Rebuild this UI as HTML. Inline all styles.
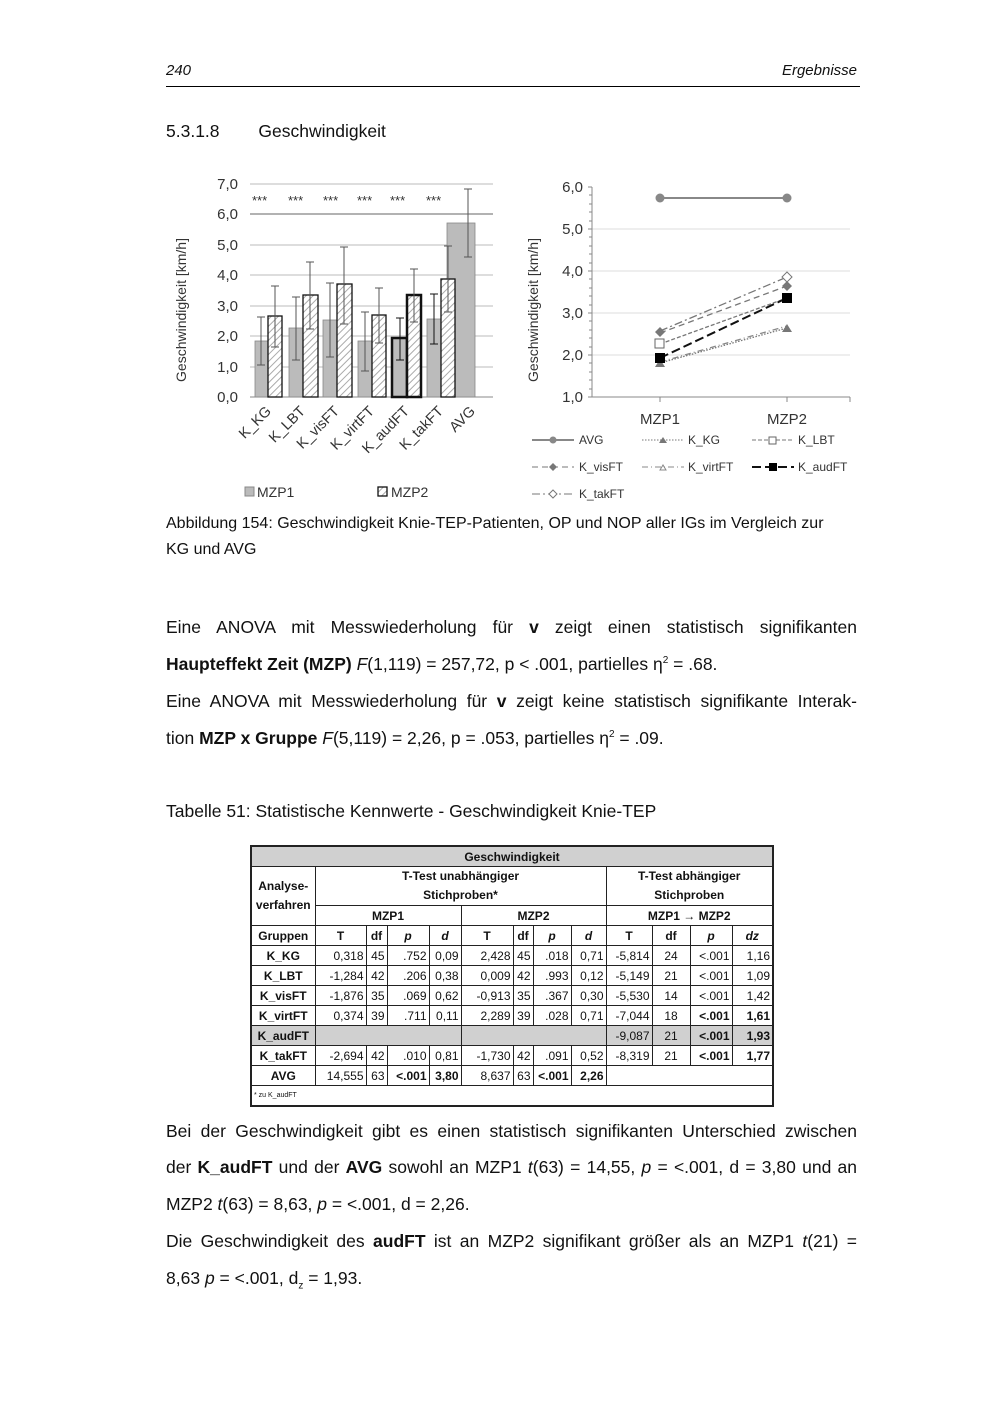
<!DOCTYPE html>
<html><head><meta charset="utf-8"><style>
body{margin:0;background:#fff;font-family:"Liberation Sans",sans-serif;color:#111}
.pg{position:relative;width:1000px;height:1414px;overflow:hidden}
.a{position:absolute;white-space:nowrap}
.t{font-size:17.5px;left:166px;width:691px}
table{position:absolute;left:250px;top:845px;border-collapse:collapse;font-size:12px;table-layout:fixed;border:2px solid #222}
td{border:1px solid #222;height:19px;padding:0 2px;text-align:center;font-weight:bold;line-height:1}
td.n{font-weight:normal;text-align:right}
.g{background:#d0d0d0}
</style></head><body><div class="pg">
<div class="a" style="left:166px;top:62px;font-size:15px;font-style:italic">240</div>
<div class="a" style="left:780px;top:62px;font-size:15px;font-style:italic;width:77px;text-align:right">Ergebnisse</div>
<div class="a" style="left:166px;top:86px;width:694px;height:1px;background:#000"></div>
<div class="a" style="left:166px;top:121px;font-size:17.5px">5.3.1.8&nbsp;&nbsp;&nbsp;&nbsp;&nbsp;&nbsp;&nbsp;&nbsp;Geschwindigkeit</div>

<svg class="a" style="left:0;top:0" width="1000" height="520" font-family="Liberation Sans,sans-serif">
<defs><pattern id="h" width="5" height="5" patternUnits="userSpaceOnUse" patternTransform="rotate(45)"><rect width="5" height="5" fill="#fff"/><line x1="0" y1="0" x2="0" y2="5" stroke="#aaa" stroke-width="2"/></pattern></defs>
<g stroke="#bbb" stroke-width="1">
<line x1="250" y1="184" x2="493" y2="184"/><line x1="250" y1="214" x2="493" y2="214" stroke="#666"/><line x1="250" y1="245" x2="493" y2="245"/><line x1="250" y1="275" x2="493" y2="275"/><line x1="250" y1="306" x2="493" y2="306"/><line x1="250" y1="336" x2="493" y2="336"/><line x1="250" y1="367" x2="493" y2="367"/><line x1="250" y1="397" x2="493" y2="397" stroke="#888"/>
</g>
<g font-size="15" fill="#333" text-anchor="end"><text x="238" y="189">7,0</text><text x="238" y="219">6,0</text><text x="238" y="250">5,0</text><text x="238" y="280">4,0</text><text x="238" y="311">3,0</text><text x="238" y="341">2,0</text><text x="238" y="372">1,0</text><text x="238" y="402">0,0</text></g>
<text transform="translate(186,310) rotate(-90)" font-size="14" text-anchor="middle" fill="#333">Geschwindigkeit [km/h]</text>
<g font-size="13" fill="#333"><text x="252" y="205">***</text><text x="288" y="205">***</text><text x="323" y="205">***</text><text x="357" y="205">***</text><text x="390" y="205">***</text><text x="426" y="205">***</text></g>
<g fill="#bbb" stroke="#888" stroke-width="0.8">
<rect x="255" y="341" width="13" height="56"/><rect x="289" y="328" width="14" height="69"/><rect x="323" y="320" width="14" height="77"/><rect x="358" y="341" width="14" height="56"/><rect x="427" y="319" width="14" height="78"/><rect x="447" y="223" width="28" height="174"/>
</g>
<rect x="392" y="338" width="15" height="59" fill="#bbb" stroke="#111" stroke-width="2.5"/>
<g fill="url(#h)" stroke="#111" stroke-width="1.3">
<rect x="268" y="316" width="14" height="81"/><rect x="303" y="295" width="15" height="102"/><rect x="337" y="284" width="15" height="113"/><rect x="372" y="315" width="14" height="82"/><rect x="441" y="279" width="14" height="118"/>
</g>
<rect x="407" y="295" width="14" height="102" fill="url(#h)" stroke="#111" stroke-width="2.5"/>
<g stroke="#555" stroke-width="1">
<path d="M261 365V317M257 365h8M257 317h8"/><path d="M275 347V286M271 347h8M271 286h8"/>
<path d="M296 360V297M292 360h8M292 297h8"/><path d="M310 329V262M306 329h8M306 262h8"/>
<path d="M330 357V283M326 357h8M326 283h8"/><path d="M344 324V247M340 324h8M340 247h8"/>
<path d="M365 371V312M361 371h8M361 312h8"/><path d="M379 343V288M375 343h8M375 288h8"/>
<path d="M400 360V318M396 360h8M396 318h8" stroke="#111"/><path d="M414 322V269M410 322h8M410 269h8"/>
<path d="M434 344V294M430 344h8M430 294h8" stroke="#111"/><path d="M448 312V246M444 312h8M444 246h8"/>
<path d="M468 257V189M464 257h8M464 189h8"/>
</g>
<g font-size="14.5" fill="#333" text-anchor="end">
<text transform="translate(272,412) rotate(-45)">K_KG</text><text transform="translate(306,412) rotate(-45)">K_LBT</text><text transform="translate(340,412) rotate(-45)">K_visFT</text><text transform="translate(375,412) rotate(-45)">K_virtFT</text><text transform="translate(410,412) rotate(-45)">K_audFT</text><text transform="translate(444,412) rotate(-45)">K_takFT</text><text transform="translate(476,412) rotate(-45)">AVG</text>
</g>
<rect x="245" y="487" width="9" height="9" fill="#bbb" stroke="#888"/><text x="257" y="497" font-size="14" fill="#333">MZP1</text>
<rect x="378" y="487" width="9" height="9" fill="url(#h)" stroke="#111" stroke-width="1.3"/><text x="391" y="497" font-size="14" fill="#333">MZP2</text>

<!-- line chart -->
<g stroke="#ddd"><line x1="592" y1="229" x2="850" y2="229"/><line x1="592" y1="271" x2="850" y2="271"/><line x1="592" y1="313" x2="850" y2="313"/><line x1="592" y1="355" x2="850" y2="355"/></g>
<path d="M592 187V397H850M850 397v5M660 397v5M787 397v5" stroke="#888" fill="none"/>
<g stroke="#888"><path d="M588 187h4M588 229h4M588 271h4M588 313h4M588 355h4M588 397h4M589 195h3M589 204h3M589 212h3M589 221h3M589 237h3M589 246h3M589 254h3M589 263h3M589 279h3M589 288h3M589 296h3M589 305h3M589 321h3M589 330h3M589 338h3M589 347h3M589 363h3M589 372h3M589 380h3M589 389h3"/></g>
<g font-size="15" fill="#333" text-anchor="end"><text x="583" y="192">6,0</text><text x="583" y="234">5,0</text><text x="583" y="276">4,0</text><text x="583" y="318">3,0</text><text x="583" y="360">2,0</text><text x="583" y="402">1,0</text></g>
<text transform="translate(538,310) rotate(-90)" font-size="14" text-anchor="middle" fill="#333">Geschwindigkeit [km/h]</text>
<g font-size="15" fill="#333" text-anchor="middle"><text x="660" y="424">MZP1</text><text x="787" y="424">MZP2</text></g>
<line x1="660" y1="198" x2="787" y2="198" stroke="#888" stroke-width="2"/><circle cx="660" cy="198" r="4.5" fill="#888"/><circle cx="787" cy="198" r="4.5" fill="#888"/>
<line x1="660" y1="363" x2="787" y2="328" stroke="#777" stroke-dasharray="1.5 1.5" stroke-width="1.3"/>
<line x1="660" y1="344" x2="787" y2="298" stroke="#777" stroke-dasharray="4 2" stroke-width="1.3"/>
<line x1="660" y1="333" x2="787" y2="286" stroke="#777" stroke-dasharray="6 4" stroke-width="1.3"/>
<line x1="660" y1="362" x2="787" y2="326" stroke="#888" stroke-dasharray="6 3 1 3" stroke-width="1.3"/>
<line x1="660" y1="331" x2="787" y2="277" stroke="#777" stroke-dasharray="8 3 2 3" stroke-width="1.3"/>
<line x1="660" y1="358" x2="787" y2="298" stroke="#111" stroke-dasharray="9 4" stroke-width="2"/>
<path d="M655 367l5-8 5 8z M782 332l5-8 5 8z" fill="#777"/>
<rect x="655" y="339" width="9" height="9" fill="#fff" stroke="#666"/>
<path d="M660 327l5 5-5 5-5-5z M787 281l5 5-5 5-5-5z" fill="#777"/>
<path d="M787 272l5 5-5 5-5-5z" fill="#fff" stroke="#777"/>
<rect x="655" y="353" width="10" height="10" fill="#000"/><rect x="782" y="293" width="10" height="10" fill="#000"/>
<g font-size="12" fill="#333">
<line x1="532" y1="440" x2="574" y2="440" stroke="#888" stroke-width="2"/><circle cx="553" cy="440" r="3.5" fill="#888"/><text x="579" y="444">AVG</text>
<line x1="642" y1="440" x2="684" y2="440" stroke="#777" stroke-dasharray="1.5 1.5"/><path d="M659 443l4-6 4 6z" fill="#777"/><text x="688" y="444">K_KG</text>
<line x1="752" y1="440" x2="794" y2="440" stroke="#777" stroke-dasharray="4 2"/><rect x="769" y="437" width="7" height="7" fill="#fff" stroke="#666"/><text x="798" y="444">K_LBT</text>
<line x1="532" y1="467" x2="574" y2="467" stroke="#777" stroke-dasharray="6 4"/><path d="M553 463l4 4-4 4-4-4z" fill="#777"/><text x="579" y="471">K_visFT</text>
<line x1="642" y1="467" x2="684" y2="467" stroke="#888" stroke-dasharray="6 3 1 3"/><path d="M660 470l3-5 3 5z" fill="#fff" stroke="#888"/><text x="688" y="471">K_virtFT</text>
<line x1="752" y1="467" x2="794" y2="467" stroke="#111" stroke-dasharray="9 4" stroke-width="2"/><rect x="769" y="463" width="8" height="8" fill="#000"/><text x="798" y="471">K_audFT</text>
<line x1="532" y1="494" x2="574" y2="494" stroke="#777" stroke-dasharray="8 3 2 3"/><path d="M553 490l4 4-4 4-4-4z" fill="#fff" stroke="#777"/><text x="579" y="498">K_takFT</text>
</g>
</svg>

<div class="a t" style="top:511px;font-size:16px;width:680px;white-space:normal;line-height:26px">Abbildung 154: Geschwindigkeit Knie-TEP-Patienten, OP und NOP aller IGs im Vergleich zur KG und AVG</div>
<div class="a t" style="top:617px;text-align:justify;text-align-last:justify">Eine ANOVA mit Messwiederholung für <b>v</b> zeigt einen statistisch signifikanten</div>
<div class="a t" style="top:654px"><b>Haupteffekt Zeit (MZP)</b> <i>F</i>(1,119) = 257,72, p &lt; .001, partielles η<sup style="font-size:10px">2</sup> = .68.</div>
<div class="a t" style="top:691px;text-align:justify;text-align-last:justify">Eine ANOVA mit Messwiederholung für <b>v</b> zeigt keine statistisch signifikante Interak-</div>
<div class="a t" style="top:728px">tion <b>MZP x Gruppe</b> <i>F</i>(5,119) = 2,26, p = .053, partielles η<sup style="font-size:10px">2</sup> = .09.</div>
<div class="a t" style="top:801px">Tabelle 51: Statistische Kennwerte - Geschwindigkeit Knie-TEP</div>

<table>
<colgroup><col style="width:64px"><col style="width:51px"><col style="width:21px"><col style="width:42px"><col style="width:32px"><col style="width:52px"><col style="width:20px"><col style="width:38px"><col style="width:35px"><col style="width:46px"><col style="width:38px"><col style="width:42px"><col style="width:41px"></colgroup>
<tr><td colspan="13" class="g">Geschwindigkeit</td></tr>
<tr><td rowspan="2" style="line-height:19px">Analyse-<br>verfahren</td><td colspan="8" style="height:38px;line-height:19px">T-Test unabhängiger<br>Stichproben*</td><td colspan="4" style="line-height:19px">T-Test abhängiger<br>Stichproben</td></tr>
<tr><td colspan="4">MZP1</td><td colspan="4">MZP2</td><td colspan="4">MZP1 → MZP2</td></tr>
<tr><td>Gruppen</td><td>T</td><td>df</td><td><i>p</i></td><td><i>d</i></td><td>T</td><td>df</td><td><i>p</i></td><td><i>d</i></td><td>T</td><td>df</td><td><i>p</i></td><td><i>dz</i></td></tr>
<tr><td>K_KG</td><td class="n">0,318</td><td class="n">45</td><td class="n">.752</td><td class="n">0,09</td><td class="n">2,428</td><td class="n">45</td><td class="n">.018</td><td class="n">0,71</td><td class="n">-5,814</td><td class="n" style="text-align:center">24</td><td class="n">&lt;.001</td><td class="n">1,16</td></tr>
<tr><td>K_LBT</td><td class="n">-1,284</td><td class="n">42</td><td class="n">.206</td><td class="n">0,38</td><td class="n">0,009</td><td class="n">42</td><td class="n">.993</td><td class="n">0,12</td><td class="n">-5,149</td><td class="n" style="text-align:center">21</td><td class="n">&lt;.001</td><td class="n">1,09</td></tr>
<tr><td>K_visFT</td><td class="n">-1,876</td><td class="n">35</td><td class="n">.069</td><td class="n">0,62</td><td class="n">-0,913</td><td class="n">35</td><td class="n">.367</td><td class="n">0,30</td><td class="n">-5,530</td><td class="n" style="text-align:center">14</td><td class="n">&lt;.001</td><td class="n">1,42</td></tr>
<tr><td>K_virtFT</td><td class="n">0,374</td><td class="n">39</td><td class="n">.711</td><td class="n">0,11</td><td class="n">2,289</td><td class="n">39</td><td class="n">.028</td><td class="n">0,71</td><td class="n">-7,044</td><td class="n" style="text-align:center">18</td><td style="text-align:right">&lt;.001</td><td style="text-align:right">1,61</td></tr>
<tr class="g"><td>K_audFT</td><td colspan="4"></td><td colspan="4"></td><td class="n">-9,087</td><td class="n" style="text-align:center">21</td><td style="text-align:right">&lt;.001</td><td style="text-align:right">1,93</td></tr>
<tr><td>K_takFT</td><td class="n">-2,694</td><td class="n">42</td><td class="n">.010</td><td class="n">0,81</td><td class="n">-1,730</td><td class="n">42</td><td class="n">.091</td><td class="n">0,52</td><td class="n">-8,319</td><td class="n" style="text-align:center">21</td><td style="text-align:right">&lt;.001</td><td style="text-align:right">1,77</td></tr>
<tr><td>AVG</td><td class="n">14,555</td><td class="n">63</td><td style="text-align:right">&lt;.001</td><td style="text-align:right">3,80</td><td class="n">8,637</td><td class="n">63</td><td style="text-align:right">&lt;.001</td><td style="text-align:right">2,26</td><td colspan="4"></td></tr>
<tr><td colspan="13" style="text-align:left;font-weight:normal;font-size:7px">* zu K_audFT</td></tr>
</table>

<div class="a t" style="top:1121px;text-align:justify;text-align-last:justify">Bei der Geschwindigkeit gibt es einen statistisch signifikanten Unterschied zwischen</div>
<div class="a t" style="top:1157px;text-align:justify;text-align-last:justify">der <b>K_audFT</b> und der <b>AVG</b> sowohl an MZP1 <i>t</i>(63) = 14,55, <i>p</i> = &lt;.001, d = 3,80 und an</div>
<div class="a t" style="top:1194px">MZP2 <i>t</i>(63) = 8,63, <i>p</i> = &lt;.001, d = 2,26.</div>
<div class="a t" style="top:1231px;text-align:justify;text-align-last:justify">Die Geschwindigkeit des <b>audFT</b> ist an MZP2 signifikant größer als an MZP1 <i>t</i>(21) =</div>
<div class="a t" style="top:1268px">8,63 <i>p</i> = &lt;.001, d<sub style="font-size:10px">z</sub> = 1,93.</div>
</div></body></html>
